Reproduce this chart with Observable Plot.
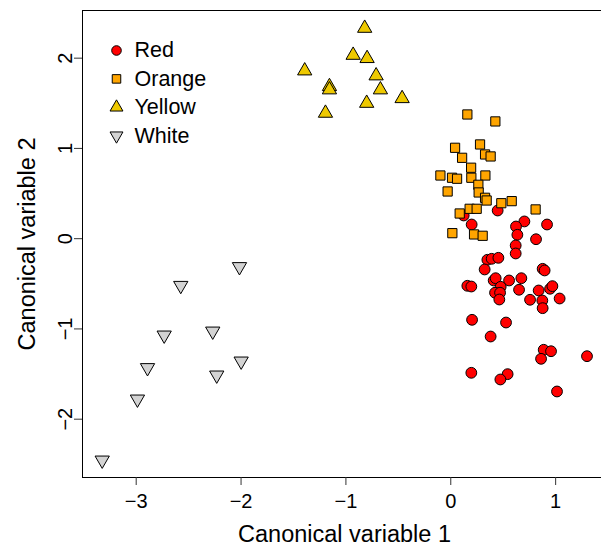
<!DOCTYPE html>
<html>
<head>
<meta charset="utf-8">
<script src="https://cdn.jsdelivr.net/npm/d3@7"></script>
<script src="https://cdn.jsdelivr.net/npm/@observablehq/plot@0.6"></script>
<style>
  html, body { margin: 0; padding: 0; background: #fff; }
  #chart { width: 601px; height: 546px; overflow: hidden; }
</style>
</head>
<body>
<div id="chart"></div>
<script>
// Canonical variable scores by colour group
const categories = ["Red", "Orange", "Yellow", "White"];

const redX = [0.447, 0.123, 0.199, 0.702, 0.622, 0.918, 0.635, 0.813, 0.619, 0.619,
  0.349, 0.390, 0.454, 0.323, 0.876, 0.895, 0.158, 0.196, 0.409, 0.428,
  0.556, 0.673, 0.476, 0.422, 0.470, 0.463, 0.651, 0.838, 0.947, 0.969,
  0.756, 0.873, 0.876, 1.038, 0.203, 0.527, 0.380, 0.886, 0.956, 0.861,
  1.299, 0.196, 0.542, 0.473, 1.013];
const redY = [0.312, 0.257, 0.157, 0.191, 0.135, 0.157, 0.043, -0.006, -0.075, -0.164,
  -0.234, -0.223, -0.212, -0.341, -0.334, -0.352, -0.522, -0.530, -0.463, -0.438,
  -0.463, -0.438, -0.533, -0.599, -0.599, -0.674, -0.566, -0.574, -0.555, -0.526,
  -0.677, -0.685, -0.770, -0.663, -0.899, -0.929, -1.084, -1.231, -1.247, -1.331,
  -1.302, -1.486, -1.501, -1.560, -1.693];

const orangeX = [0.158, 0.425, 0.041, 0.279, 0.327, 0.380, 0.108, 0.194, -0.099, 0.012,
  0.060, 0.196, 0.330, 0.263, -0.030, 0.266, 0.327, 0.342, 0.482, 0.581,
  0.180, 0.247, 0.085, 0.809, 0.015, 0.222, 0.304];
const orangeY = [1.376, 1.299, 1.007, 1.044, 0.933, 0.911, 0.896, 0.786, 0.700, 0.675,
  0.664, 0.675, 0.700, 0.597, 0.523, 0.512, 0.453, 0.423, 0.393, 0.416,
  0.331, 0.331, 0.279, 0.324, 0.061, 0.047, 0.032];

const yellowX = [-0.821, -0.931, -0.798, -1.393, -0.712, -1.157, -1.157, -0.671, -0.464, -0.802, -1.195];
const yellowY = [2.332, 2.033, 1.997, 1.860, 1.805, 1.686, 1.650, 1.650, 1.553, 1.501, 1.391];

const whiteX = [-2.015, -2.575, -2.733, -2.270, -1.999, -2.892, -2.232, -2.988, -3.324];
const whiteY = [-0.311, -0.519, -1.069, -1.025, -1.357, -1.430, -1.512, -1.778, -2.454];

const xTicks = [-3, -2, -1, 0, 1];
const yTicks = [-2, -1, 0, 1, 2];

const fills = {Red: "#ff0000", Orange: "#ffa500", Yellow: "#eec900", White: "#d3d3d3"};

// downward-pointing triangle with the same area convention as d3.symbolTriangle
const triangleDown = {
  draw(context, size) {
    const y = -Math.sqrt(size / (Math.sqrt(3) * 3));
    context.moveTo(0, -y * 2);
    context.lineTo(-Math.sqrt(3) * y, y);
    context.lineTo(Math.sqrt(3) * y, y);
    context.closePath();
  }
};
const symbols = {Red: "circle", Orange: "square", Yellow: "triangle", White: triangleDown};
const radii = {Red: 5.4, Orange: 5.2, Yellow: 5.3, White: 5.3};

const groups = [
  ["Red", redX, redY],
  ["Orange", orangeX, orangeY],
  ["Yellow", yellowX, yellowY],
  ["White", whiteX, whiteY]
];
const rows = groups.flatMap(([g, xs, ys]) => xs.map((x, i) => ({group: g, x, y: ys[i]})));

const minus = d => String(d).replace("-", "\u2212");

const marks = [
  Plot.frame({stroke: "#000", strokeWidth: 1}),
  Plot.axisX({ticks: xTicks, tickSize: 8, tickPadding: 8, fontSize: 20, tickFormat: minus, label: null, stroke: "#333"}),
  Plot.axisY({ticks: yTicks, tickSize: 8, tickFormat: () => "", label: null, stroke: "#333"}),
  Plot.text(yTicks, {y: d => d, text: minus, frameAnchor: "left", dx: -17, rotate: -90,
    textAnchor: "middle", lineAnchor: "middle", fontSize: 20, fill: "#000"}),
  Plot.text(["Canonical variable 1"], {text: d => d, frameAnchor: "bottom", dy: 57,
    lineAnchor: "middle", fontSize: 23.5, fill: "#000"}),
  Plot.text(["Canonical variable 2"], {text: d => d, frameAnchor: "left", dx: -55, rotate: -90,
    textAnchor: "middle", lineAnchor: "middle", fontSize: 23.5, fill: "#000"})
];

for (const [g] of groups) {
  marks.push(Plot.dot(rows.filter(d => d.group === g), {
    x: "x", y: "y", r: radii[g], symbol: () => symbols[g],
    fill: fills[g], stroke: "#000", strokeWidth: 1
  }));
}

categories.forEach((g, i) => {
  const dy = 40 + i * 28.4;
  marks.push(Plot.dot([g], {frameAnchor: "top-left", dx: 34, dy, r: 4.8,
    symbol: () => symbols[g], fill: fills[g], stroke: "#000", strokeWidth: 1}));
  marks.push(Plot.text([g], {text: d => d, frameAnchor: "top-left", dx: 52, dy,
    textAnchor: "start", lineAnchor: "middle", fontSize: 21.5, fill: "#000"}));
});

const chart = Plot.plot({
  width: 601,
  height: 546,
  marginLeft: 82,
  marginRight: -5,
  marginTop: 10,
  marginBottom: 69,
  style: {fontFamily: "'Liberation Sans', Arial, sans-serif", background: "#fff", color: "#000"},
  x: {domain: [-3.512, 1.485]},
  y: {domain: [-2.646, 2.528]},
  symbol: {type: "identity"},
  marks
});
document.getElementById("chart").appendChild(chart);
</script>
</body>
</html>
